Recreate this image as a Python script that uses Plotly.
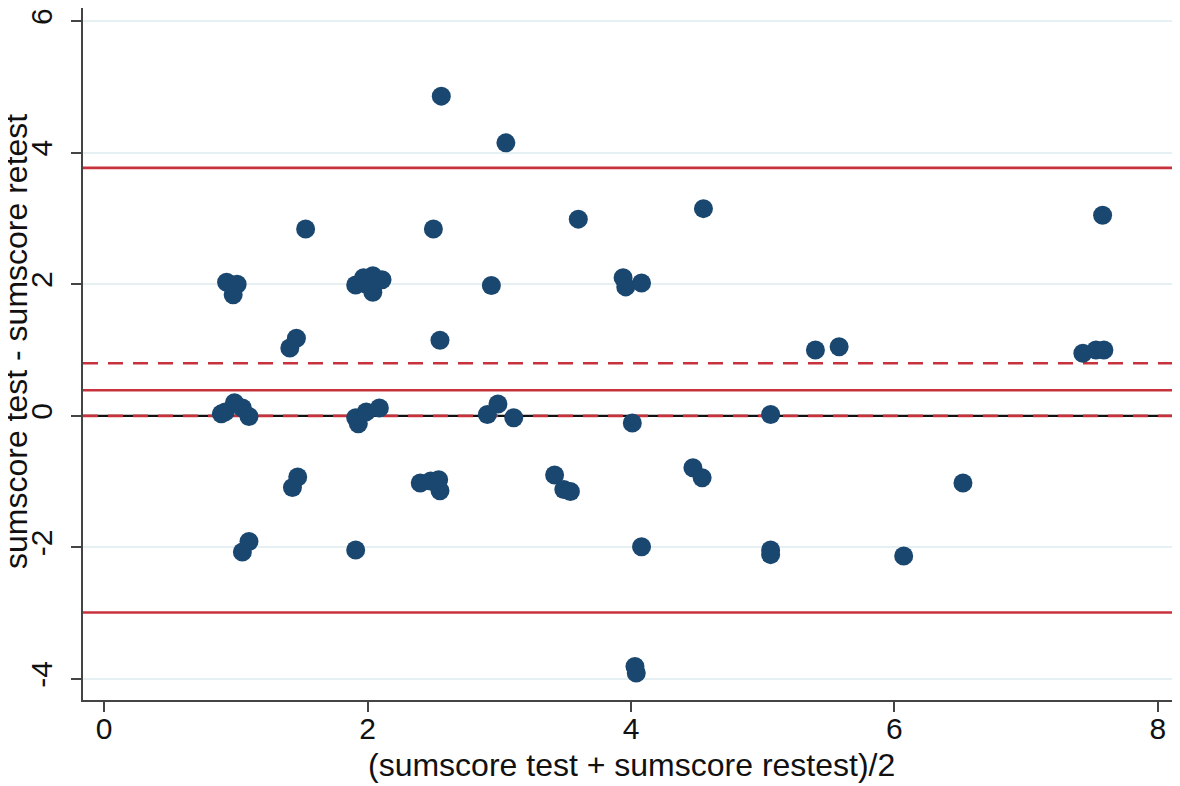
import plotly.graph_objects as go

# Bland-Altman data: mean of test/retest (x) vs difference (y)
mean_scores = [
    2.56, 3.05, 1.53, 2.50, 3.60, 4.55, 7.58,
    0.93, 1.01, 0.98,
    1.91, 1.97, 2.04, 2.11, 2.04, 1.99,
    2.94,
    3.94, 3.96, 4.08,
    1.46, 1.41,
    2.55,
    5.40, 5.58,
    7.43, 7.53, 7.59,
    0.92, 0.99, 1.05, 1.10, 0.89,
    1.91, 1.93, 1.99, 2.09,
    2.91, 2.99, 3.11, 4.01, 5.06,
    2.40, 2.48, 2.54, 2.55,
    3.42, 3.49, 3.54,
    4.47, 4.54,
    6.52,
    1.47, 1.43,
    1.10, 1.05, 1.91,
    4.08, 5.06, 5.06,
    6.07,
    4.03, 4.04,
]
diff_scores = [
    4.86, 4.15, 2.84, 2.84, 2.99, 3.15, 3.05,
    2.03, 2.00, 1.84,
    1.99, 2.10, 2.13, 2.07, 1.88, 2.00,
    1.98,
    2.10, 1.96, 2.02,
    1.18, 1.03,
    1.15,
    1.00, 1.05,
    0.95, 1.00, 1.00,
    0.06, 0.20, 0.12, -0.01, 0.03,
    -0.03, -0.12, 0.06, 0.12,
    0.02, 0.18, -0.03, -0.11, 0.02,
    -1.02, -0.99, -0.97, -1.14,
    -0.90, -1.12, -1.15,
    -0.79, -0.94,
    -1.02,
    -0.93, -1.09,
    -1.91, -2.07, -2.04,
    -1.99, -2.04, -2.11,
    -2.13,
    -3.81, -3.91,
]

# Reference lines
mean_diff = 0.39
loa_upper = 3.77
loa_lower = -2.99
ci_upper = 0.80
ci_lower = 0.0

x_ticks = [0, 2, 4, 6, 8]
y_ticks = [-4, -2, 0, 2, 4, 6]
x_range = [-0.16, 8.16]
y_range = [-4.32, 6.20]

x_title = "(sumscore test + sumscore restest)/2"
y_title = "sumscore test - sumscore retest"

RED = "#c8323c"
NAVY = "#1a476f"

fig = go.Figure()

def hline(y, color, width, dash="solid"):
    fig.add_trace(go.Scatter(
        x=x_range, y=[y, y], mode="lines",
        line=dict(color=color, width=width, dash=dash),
        hoverinfo="skip", showlegend=False,
    ))

hline(0, "#111111", 2.2)
hline(ci_lower, RED, 2.6, "15px,10px")
hline(ci_upper, RED, 2.6, "15px,10px")
hline(mean_diff, RED, 2.6)
hline(loa_upper, RED, 2.6)
hline(loa_lower, RED, 2.6)

fig.add_trace(go.Scatter(
    x=mean_scores, y=diff_scores, mode="markers",
    marker=dict(color=NAVY, size=19, line=dict(width=0)),
    showlegend=False,
))

FONT = "Liberation Sans, Arial, Helvetica, sans-serif"
FS = 30
TFS = 32

fig.update_layout(
    width=1172, height=778,
    margin=dict(l=75, r=1, t=0, b=86, autoexpand=False),
    paper_bgcolor="white", plot_bgcolor="white",
    font=dict(family=FONT, color="#111111", size=FS),
    xaxis=dict(
        range=x_range, tickvals=x_ticks, ticktext=[str(v) for v in x_ticks],
        showgrid=False, zeroline=False, automargin=False,
        showline=True, linecolor="#444444", linewidth=2,
        ticks="outside", ticklen=10, tickwidth=1.5, tickcolor="#444444",
        tickfont=dict(size=FS, family=FONT),
        ticklabelstandoff=-9,
    ),
    yaxis=dict(
        range=y_range, tickvals=y_ticks, ticktext=[str(v) for v in y_ticks],
        showgrid=True, gridcolor="#e6eff1", gridwidth=1.5,
        zeroline=False, automargin=False,
        showline=True, linecolor="#444444", linewidth=2,
        ticks="outside", ticklen=10, tickwidth=1.5, tickcolor="#444444",
        tickangle=-90,
        tickfont=dict(size=FS, family=FONT),
        ticklabelstandoff=7,
    ),
    annotations=[
        dict(text=x_title, xref="paper", yref="paper", x=0.5, y=0,
             yshift=-65, xanchor="center", yanchor="middle", showarrow=False,
             font=dict(size=TFS, family=FONT, color="#111111")),
        dict(text=y_title, xref="paper", yref="paper", x=0, y=0.5,
             xshift=-67, yshift=12, textangle=-90, xanchor="center",
             yanchor="middle", showarrow=False,
             font=dict(size=TFS, family=FONT, color="#111111")),
    ],
)

fig.write_html("out.html")
